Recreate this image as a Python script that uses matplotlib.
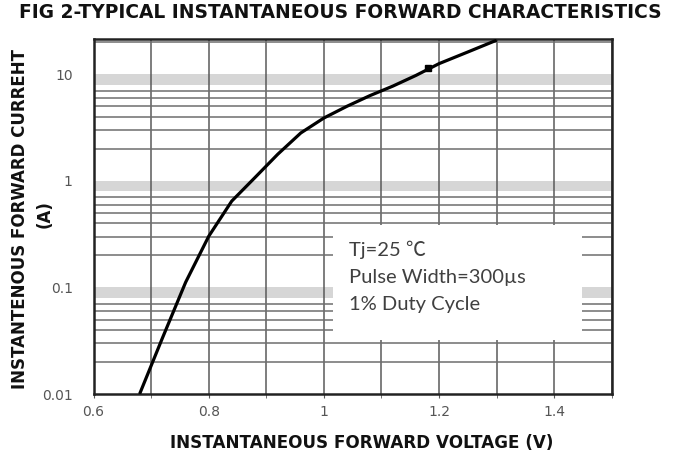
import numpy as np
import matplotlib
matplotlib.use("Agg")
import matplotlib.pyplot as plt
from matplotlib.ticker import LogLocator, MultipleLocator, NullFormatter
from matplotlib.patches import Rectangle

# Data
voltage = [0.68, 0.72, 0.76, 0.80, 0.84, 0.88, 0.92, 0.96, 1.00, 1.04, 1.08, 1.12, 1.16, 1.20, 1.25, 1.30]
current = [0.01, 0.0339, 0.112, 0.302, 0.646, 1.07, 1.78, 2.818, 3.89, 5.01, 6.31, 7.76, 9.77, 12.59, 16.2, 20.9]
marker_v = [1.18]
marker_i = [11.5]

xticks = [0.6, 0.8, 1.0, 1.2, 1.4]
xticklabels = ["0.6", "0.8", "1", "1.2", "1.4"]
yticks = [0.01, 0.1, 1, 10]
yticklabels = ["0.01", "0.1", "1", "10"]

title = "FIG 2-TYPICAL INSTANTANEOUS FORWARD CHARACTERISTICS"
xlabel = "INSTANTANEOUS FORWARD VOLTAGE (V)"
ylabel_line1 = "INSTANTENOUS FORWARD CURREHT"
ylabel_line2 = "(A)"
note_lines = ["Tj=25 \u2103", "Pulse Width=300\u00b5s", "1% Duty Cycle"]

fig = plt.figure(figsize=(6.73, 4.63), dpi=100)
ax = fig.add_axes([0.139, 0.149, 0.770, 0.767])

ax.set_yscale("log")
ax.set_xlim(0.6, 1.5)
ax.set_ylim(0.01, 21.5)

ax.set_axisbelow(True)
ax.set_xticks(xticks)
ax.set_xticklabels(xticklabels)
ax.xaxis.set_minor_locator(MultipleLocator(0.1))
ax.set_yticks(yticks)
ax.set_yticklabels(yticklabels)
ax.yaxis.set_minor_locator(LogLocator(base=10, subs=[2, 3, 4, 5, 6, 7]))
ax.yaxis.set_minor_formatter(NullFormatter())

ax.grid(False, which="major", axis="y")
ax.grid(True, which="minor", axis="y", color="#6e6e6e", linewidth=1.1)
ax.grid(True, which="both", axis="x", color="#5a5a5a", linewidth=1.1)

# light gray bands just below each decade line
for d in [0.01, 0.1, 1, 10]:
    ax.axhspan(d * 0.8, d, color="#d6d6d6", zorder=0.3, linewidth=0)

ax.tick_params(axis="y", which="both", length=0, pad=15, labelsize=10, labelcolor="#555555")
ax.tick_params(axis="x", which="both", length=3, direction="out", color="#5a5a5a",
               pad=5, labelsize=10, labelcolor="#555555")

for s in ax.spines.values():
    s.set_linewidth(1.8)
    s.set_color("#222222")

# white box behind the note
ax.add_patch(Rectangle((0.462, 0.152), 0.481, 0.324, transform=ax.transAxes,
                       facecolor="white", edgecolor="none", zorder=1.5))
for txt, yy in zip(note_lines, [0.406, 0.327, 0.251]):
    ax.text(0.493, yy, txt, transform=ax.transAxes, va="center", ha="left",
            fontsize=14.5, color="#404040",
            family=["Lato", "Noto Sans CJK SC", "DejaVu Sans"], zorder=3)

ax.plot(voltage, current, color="black", linewidth=2.3, zorder=4, solid_capstyle="butt")
ax.plot(marker_v, marker_i, marker="s", color="black", markersize=5, linestyle="none", zorder=5)

fig.text(0.505, 0.972, title, ha="center", va="center", fontsize=13.4,
         fontweight="bold", family="DejaVu Sans", color="#111111")
fig.text(0.537, 0.044, xlabel, ha="center", va="center", fontsize=12.1,
         fontweight="bold", family="DejaVu Sans", color="#111111")
fig.text(0.030, 0.527, ylabel_line1, rotation=90, ha="center", va="center",
         fontsize=12, fontweight="bold", family="DejaVu Sans", color="#111111")
fig.text(0.067, 0.538, ylabel_line2, rotation=90, ha="center", va="center",
         fontsize=12, fontweight="bold", family="DejaVu Sans", color="#111111")

fig.savefig("out.png", dpi=100)
